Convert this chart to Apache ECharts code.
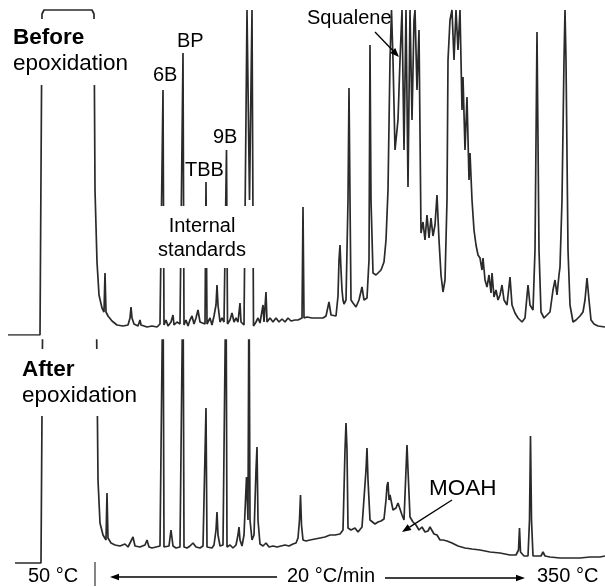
<!DOCTYPE html>
<html>
<head>
<meta charset="utf-8">
<script src="https://cdn.jsdelivr.net/npm/echarts@6/dist/echarts.min.js"></script>
<style>
  html, body { margin: 0; padding: 0; background: #fff; }
  #chart { width: 605px; height: 587px; }
</style>
</head>
<body>
<div id="chart"></div>
<script>
// GC-FID traces of the MOAH fraction: [retention time (s), detector signal]
const beforeTrace = [
  [16,0],[80,0],[84,321],[88,325],[184,325],[188,321],[190,145],[194,73],[198,40],[204,27],
  [208,23],[210,62],[212,23],[216,19],[224,14],[234,10],[246,9],[256,10],[260,17],[262,28],
  [264,17],[268,11],[276,9],[280,15],[282,10],[294,8],[304,9],[314,8],[320,11],[324,10],
  [326,245],[328,10],[332,15],[336,9],[342,13],[346,20],[348,10],[354,13],[360,11],[364,10],
  [366,282],[368,10],[372,15],[376,9],[380,15],[384,19],[388,11],[392,17],[396,25],[400,13],
  [404,11],[410,11],[412,153],[414,11],[420,17],[424,10],[428,19],[432,30],[434,50],[436,30],
  [440,13],[444,17],[448,13],[451,11],[453,185],[455,11],[460,15],[464,22],[468,13],[472,17],
  [476,13],[480,32],[482,13],[488,10],[492,8],[494,325],[499,135],[504,325],[507,9],[512,13],
  [516,17],[520,12],[526,30],[528,13],[532,43],[534,13],[540,17],[546,13],[552,17],[558,13],
  [564,16],[570,13],[576,17],[582,14],[590,15],[596,15],[604,17],[606,128],[608,17],[614,18],
  [624,17],[636,17],[646,17],[652,19],[658,33],[662,20],[666,22],[672,19],[676,39],[678,75],
  [680,90],[682,65],[684,45],[686,35],[688,31],[692,35],[696,135],[698,247],[700,135],[702,35],
  [706,32],[712,28],[718,35],[724,48],[728,35],[734,37],[738,75],[740,290],[742,135],[746,62],
  [752,60],[756,58],[762,65],[768,73],[772,95],[776,145],[780,275],[783,325],[786,275],[790,185],
  [796,215],[800,275],[804,325],[808,185],[812,325],[816,148],[820,325],[824,215],[828,315],[830,325],
  [834,245],[838,305],[842,102],[846,113],[850,95],[854,120],[858,97],[862,117],[866,99],[870,110],
  [874,140],[878,95],[882,60],[886,43],[890,55],[894,135],[896,275],[900,315],[904,325],[908,275],
  [912,325],[916,285],[920,325],[924,225],[926,258],[930,185],[934,238],[938,155],[940,182],[944,135],
  [948,105],[952,90],[956,80],[960,77],[964,65],[966,77],[970,55],[974,48],[978,60],[982,42],
  [984,62],[988,38],[992,45],[996,35],[1000,40],[1004,50],[1008,35],[1014,30],[1020,58],[1024,30],
  [1030,22],[1036,17],[1044,13],[1050,17],[1056,50],[1060,30],[1066,25],[1070,85],[1074,303],[1078,85],
  [1082,23],[1088,17],[1094,20],[1100,23],[1106,45],[1110,55],[1114,40],[1118,60],[1120,68],[1124,135],
  [1128,275],[1130,325],[1132,275],[1136,85],[1140,30],[1146,13],[1152,15],[1160,19],[1166,23],[1170,35],
  [1174,57],[1178,35],[1182,15],[1188,11],[1196,9],[1210,8]
];

// Signal above 225 runs off the top of the lower panel (detector overload)
const afterTrace = [
  [30,2],[82,2],[86,300],[192,300],[196,85],[200,42],[206,30],[212,25],[214,72],[216,27],
  [222,22],[230,20],[240,19],[250,21],[256,18],[266,28],[270,19],[280,18],[290,20],[294,25],
  [298,18],[304,17],[312,18],[320,19],[324,18],[326,300],[328,18],[332,20],[338,19],[342,35],
  [346,19],[352,17],[360,18],[364,18],[366,300],[368,18],[374,17],[380,19],[386,22],[392,18],
  [400,17],[406,19],[410,18],[412,157],[414,18],[418,20],[424,17],[428,20],[432,35],[434,53],
  [436,30],[440,19],[446,20],[450,18],[452,300],[454,18],[460,20],[466,17],[472,20],[476,30],
  [478,38],[480,25],[484,19],[488,30],[491,65],[493,88],[496,45],[498,300],[500,45],[502,35],
  [504,25],[508,30],[512,95],[514,118],[516,45],[520,21],[526,19],[532,22],[538,18],[546,19],
  [554,18],[562,19],[570,20],[578,19],[586,21],[592,22],[596,27],[599,45],[601,70],[603,40],
  [606,25],[612,24],[620,25],[630,26],[640,27],[650,28],[660,30],[670,30],[680,31],[686,35],
  [690,115],[692,142],[694,115],[696,37],[702,35],[710,37],[716,33],[720,35],[724,38],[728,40],
  [732,95],[734,117],[736,85],[740,45],[744,45],[750,41],[756,43],[762,44],[768,46],[772,65],
  [774,79],[776,83],[778,65],[780,70],[782,72],[786,55],[792,57],[796,62],[800,60],[804,50],
  [808,45],[812,95],[814,120],[816,95],[820,48],[826,43],[832,40],[838,35],[844,38],[850,33],
  [856,34],[860,38],[864,38],[868,31],[874,30],[880,25],[886,25],[894,24],[904,22],[916,19],
  [930,17],[944,16],[960,15],[980,13],[1000,12],[1020,10],[1032,10],[1037,15],[1039,37],[1041,13],
  [1048,9],[1056,9],[1059,45],[1061,129],[1063,45],[1066,9],[1074,9],[1082,9],[1086,13],[1090,9],
  [1100,8],[1120,7],[1140,7],[1160,7],[1180,8],[1200,8],[1210,9]
];

const panelTitles = ['Before', 'After'];
const panelSubtitle = 'epoxidation';
const standardNames = ['6B', 'BP', 'TBB', '9B'];
const standardsCaption = ['Internal', 'standards'];
const compoundNames = ['Squalene', 'MOAH'];
const ovenProgram = ['50 °C', '20 °C/min', '350 °C'];

const FONT = '"Liberation Sans", Arial, Helvetica, sans-serif';
const INK = '#000';

function text(s, x, y, size, opts) {
  opts = opts || {};
  return {
    type: 'text', z: 120,
    style: {
      text: s, x: x, y: y, fill: INK,
      fontSize: size, fontFamily: FONT,
      fontWeight: opts.bold ? 'bold' : 'normal',
      align: opts.align || 'left', verticalAlign: 'middle'
    }
  };
}

function box(x, y, w, h) {
  return { type: 'rect', z: 110, shape: { x: x, y: y, width: w, height: h },
           style: { fill: '#fff' } };
}

function arrow(x1, y1, x2, y2, hl, hw) {
  const dx = x2 - x1, dy = y2 - y1, L = Math.hypot(dx, dy);
  const ux = dx / L, uy = dy / L;
  const bx = x2 - ux * hl, by = y2 - uy * hl;
  return [
    { type: 'line', z: 120, shape: { x1: x1, y1: y1, x2: bx, y2: by },
      style: { stroke: INK, lineWidth: 1.3 } },
    { type: 'polygon', z: 120,
      shape: { points: [[x2, y2], [bx - uy * hw, by + ux * hw], [bx + uy * hw, by - ux * hw]] },
      style: { fill: INK } }
  ];
}

const traceStyle = { color: '#2a2a2a', width: 1.7 };

const option = {
  backgroundColor: '#fff',
  animation: false,
  grid: [
    { left: 0, right: 0, top: 5, height: 330 },
    { left: 0, right: 0, top: 340, height: 225 }
  ],
  xAxis: [
    { type: 'value', gridIndex: 0, min: 0, max: 1210, show: false },
    { type: 'value', gridIndex: 1, min: 0, max: 1210, show: false }
  ],
  yAxis: [
    { type: 'value', gridIndex: 0, min: 0, max: 330, show: false },
    { type: 'value', gridIndex: 1, min: 0, max: 225, show: false }
  ],
  series: [
    { type: 'line', xAxisIndex: 0, yAxisIndex: 0, data: beforeTrace, showSymbol: false,
      silent: true, clip: true, lineStyle: traceStyle },
    { type: 'line', xAxisIndex: 1, yAxisIndex: 1, data: afterTrace, showSymbol: false,
      silent: true, clip: true, lineStyle: traceStyle }
  ],
  graphic: [
    // panel captions on white patches
    box(8, 19, 135, 66),
    text(panelTitles[0], 13, 38, 22.5, { bold: true }),
    text(panelSubtitle, 13, 64, 22.5),
    box(10, 349, 135, 67),
    text(panelTitles[1], 22, 370, 22.5, { bold: true }),
    text(panelSubtitle, 22, 396, 22.5),
    // internal standard peaks
    text(standardNames[0], 153, 75, 20),
    text(standardNames[1], 177, 41, 20),
    text(standardNames[2], 185, 170, 20),
    text(standardNames[3], 213, 137, 20),
    box(155, 206, 106, 62),
    text(standardsCaption[0], 202, 226, 20, { align: 'center' }),
    text(standardsCaption[1], 202, 250, 20, { align: 'center' }),
    // compound annotations
    text(compoundNames[0], 307, 18, 20),
    ...arrow(375, 32, 399, 57, 9, 3.5),
    text(compoundNames[1], 429, 489, 22.5),
    ...arrow(452, 500, 402, 532, 9, 3.5),
    // oven programme along the bottom
    text(ovenProgram[0], 28, 576, 20),
    { type: 'line', z: 120, shape: { x1: 95, y1: 562, x2: 95, y2: 586 },
      style: { stroke: '#444', lineWidth: 1.3 } },
    ...arrow(277, 577, 110, 577, 9, 3.2),
    text(ovenProgram[1], 287, 576, 20),
    ...arrow(385, 578, 525, 578, 9, 3.2),
    text(ovenProgram[2], 537, 576, 20)
  ]
};

const chart = echarts.init(document.getElementById('chart'), null, { renderer: 'canvas' });
chart.setOption(option);
</script>
</body>
</html>
